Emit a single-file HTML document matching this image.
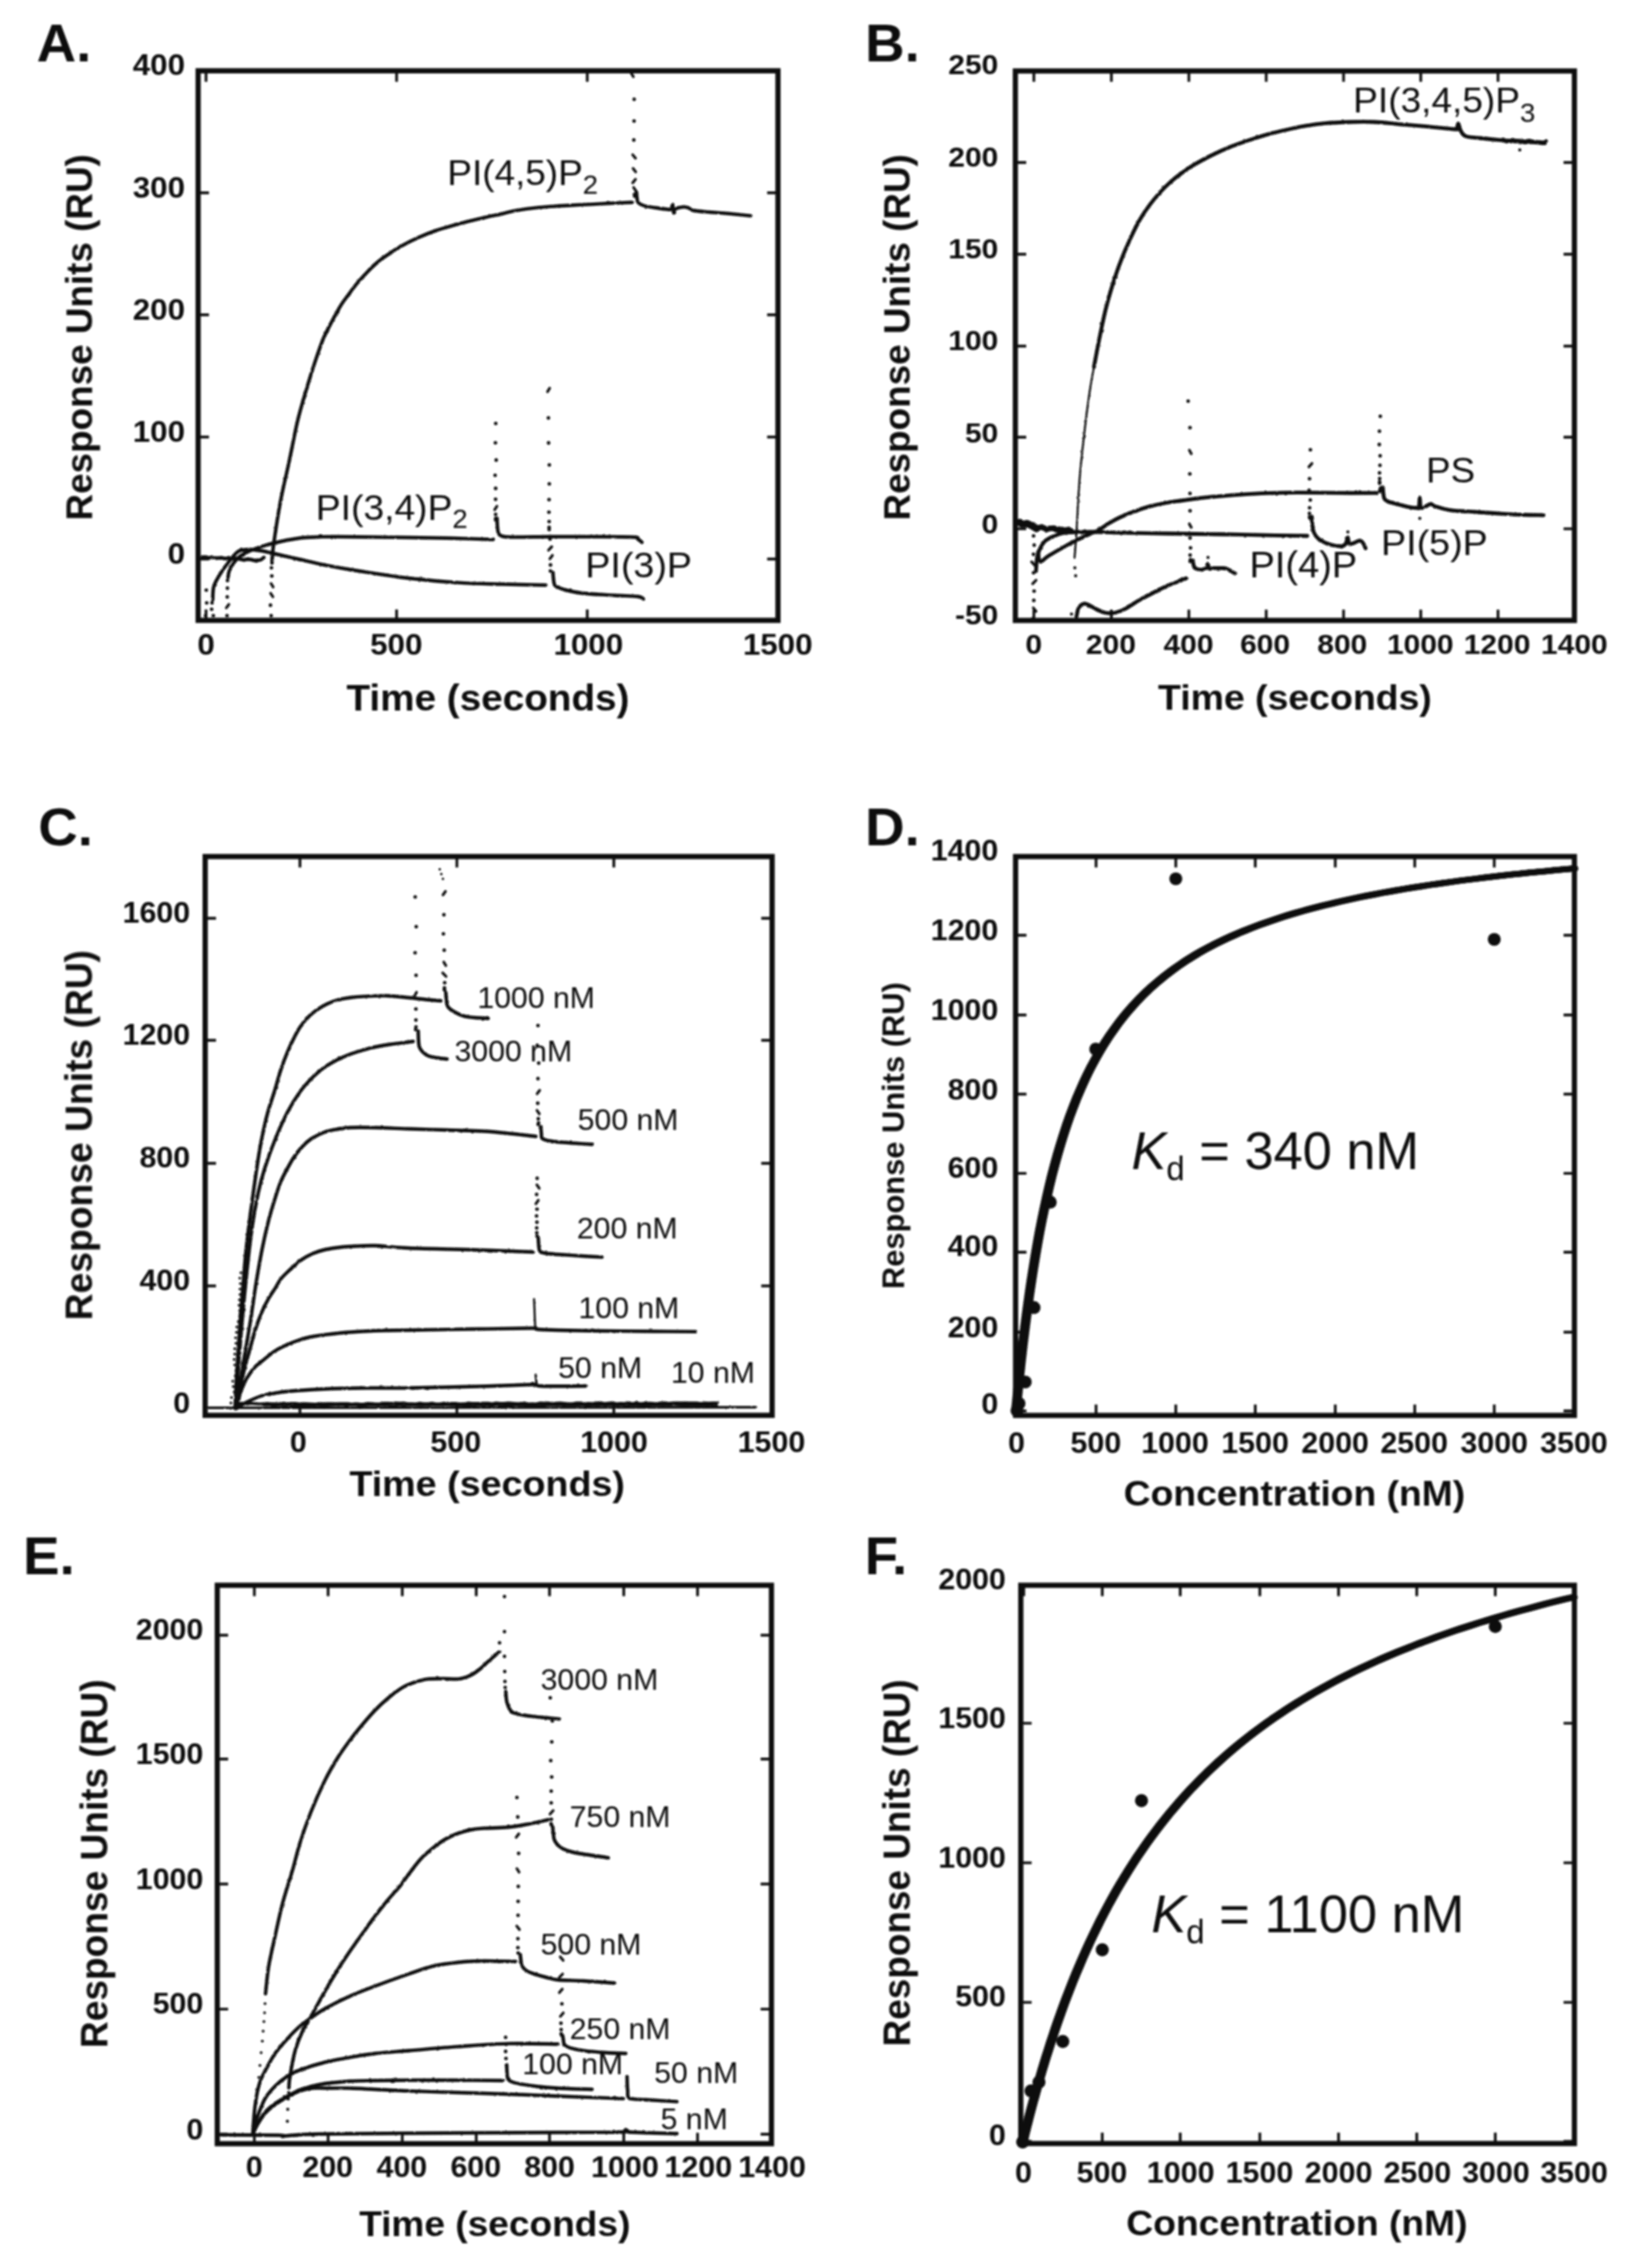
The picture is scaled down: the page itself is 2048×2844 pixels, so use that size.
<!DOCTYPE html>
<html lang="en"><head><meta charset="utf-8"><title>SPR binding figure</title>
<style>html,body{margin:0;padding:0;background:#fff}svg{display:block;font-family:"Liberation Sans",sans-serif}text{fill:#0b0b0b}</style></head><body>
<svg width="2048" height="2844" viewBox="0 0 2048 2844">
<rect width="2048" height="2844" fill="#fff"/>
<g id="fig" filter="url(#soft)">
<rect x="248.5" y="88.8" width="727.2" height="689.1" fill="none" stroke="#0b0b0b" stroke-width="6.5"/>
<path d="M258.4 88.8v13.6M258.4 777.9v-13.6M497.4 88.8v13.6M497.4 777.9v-13.6M736.5 88.8v13.6M736.5 777.9v-13.6M248.5 241.7h13.6M975.7 241.7h-13.6M248.5 394.8h13.6M975.7 394.8h-13.6M248.5 548h13.6M975.7 548h-13.6M248.5 701h13.6M975.7 701h-13.6" stroke="#0b0b0b" stroke-width="3.4" fill="none"/>
<text transform="translate(46 77) scale(1.03 1)" font-size="66.5" font-weight="bold" text-anchor="start" >A.</text>
<text transform="translate(232 93.5) scale(1.05 1)" font-size="37.4" font-weight="bold" text-anchor="end" >400</text>
<text transform="translate(232 247.5) scale(1.05 1)" font-size="37.4" font-weight="bold" text-anchor="end" >300</text>
<text transform="translate(232 400.5) scale(1.05 1)" font-size="37.4" font-weight="bold" text-anchor="end" >200</text>
<text transform="translate(232 554) scale(1.05 1)" font-size="37.4" font-weight="bold" text-anchor="end" >100</text>
<text transform="translate(232 706.5) scale(1.05 1)" font-size="37.4" font-weight="bold" text-anchor="end" >0</text>
<text transform="translate(258.4 820.5) scale(1.05 1)" font-size="37.4" font-weight="bold" text-anchor="middle" >0</text>
<text transform="translate(497 820.5) scale(1.05 1)" font-size="37.4" font-weight="bold" text-anchor="middle" >500</text>
<text transform="translate(737.8 820.5) scale(1.05 1)" font-size="37.4" font-weight="bold" text-anchor="middle" >1000</text>
<text transform="translate(975.3 820.5) scale(1.05 1)" font-size="37.4" font-weight="bold" text-anchor="middle" >1500</text>
<text transform="translate(612 890.5) scale(1.05 1)" font-size="46.2" font-weight="bold" text-anchor="middle" >Time (seconds)</text>
<text transform="translate(115.3 423) rotate(-90) scale(1 1.02)" font-size="46.2" font-weight="bold" text-anchor="middle">Response Units (RU)</text>
<g fill="none" stroke="#0b0b0b" stroke-linecap="round" stroke-linejoin="round" filter="url(#rough)">
<path d="M254 698.6L258 698.5L262 699.7L266 698.8L270 699.9L274 699.8L278 699.4L282 700.5L286 699.7L290 700.7L294 700.2L298 700.4L302 701.3L306 702.3L310 701.1L314 701.5L318 702.5L322 703.4" stroke-width="4.6" />
<path d="M322 702.5C322.8 702.4 325.5 702.6 327 702C328.5 701.4 330.3 699.5 331 699" stroke-width="4.4" />
<path d="M341 706C341.3 702.3 341.2 696.3 343 683.6C344.8 670.9 348.4 646.9 351.6 629.6C354.8 612.3 358.8 596.8 362.4 579.9C366 563 369.6 543.1 373.2 528C376.8 512.9 380.4 501.4 384 489.2C387.6 477 391.2 465.4 394.8 454.6C398.4 443.8 402 433 405.6 424.4C409.2 415.8 412.8 409.6 416.4 402.8C420 396 423.6 389.1 427.2 383.3C430.8 377.5 434.4 373.1 438 368.2C441.6 363.3 445.2 358.5 448.8 354.2C452.4 349.9 456 346.1 459.6 342.3C463.2 338.5 466.8 334.7 470.4 331.5C474 328.3 475.8 326.7 481.2 322.9C486.6 319.1 495.6 312.9 502.8 308.8C510 304.7 517.2 301.2 524.4 298C531.6 294.8 538.8 291.9 546 289.4C553.2 286.9 560.4 284.9 567.6 282.9C574.8 280.8 582 278.9 589.2 277.1C596.4 275.3 604 273.6 610.8 272.1C617.6 270.6 623.8 269.4 630 268C636.2 266.6 640.8 265.1 647.8 263.9C654.8 262.7 663.8 261.5 671.7 260.6C679.7 259.7 687.5 259.2 695.5 258.6C703.5 258 711.4 257.6 719.4 257.2C727.4 256.8 735.3 256.5 743.3 256.1C751.3 255.7 758.9 255.2 767.2 254.8C775.5 254.4 788.7 253.9 793 253.7" stroke-width="4.4" />
<path d="M798.2 241C798.3 242.3 798.6 246.8 799 249C799.4 251.2 799.1 252.8 800.6 254.3C802.1 255.8 804.2 257 807.8 258C811.4 259 816.8 259.7 822 260.5C827.2 261.3 835.5 262.4 838.8 262.7C842.1 262.9 841.2 263 842 262C842.8 261 843.1 255.7 843.6 256.5C844.1 257.3 844.4 266.1 845 267C845.6 267.9 844.8 263.2 847 262C849.2 260.8 855.2 259.7 858 259.5C860.8 259.3 862 260.2 864 261C866 261.8 865.7 263.2 870 264C874.3 264.8 883.2 265.4 890 266C896.8 266.6 901.9 266.7 910.5 267.5C919.1 268.3 936.3 270.1 941.5 270.6" stroke-width="4.4" />
<path d="M266.8 752C267 749.3 266.7 740.9 268 736C269.3 731.1 271.6 727.5 274.4 722.7C277.2 717.9 281.1 712.1 285 707C288.9 701.9 294.5 694.9 298 692C301.5 689.1 303.4 690 306 689.5C308.6 689 309.6 688.8 313.6 689C317.6 689.2 324.8 690.1 330 691C335.2 691.9 337.3 692.8 345 694.5C352.7 696.2 365.6 699.1 376 701.5C386.4 703.9 395.3 706.2 407.6 708.6C419.9 711 432.6 713.3 450 716C467.4 718.7 491.2 722.6 512 725C532.8 727.4 555 729.4 574.7 730.6C594.4 731.9 611.7 732 630 732.5C648.3 733 675.4 733.5 684.5 733.7" stroke-width="4.4" />
<path d="M693.5 718C693.7 719.8 693.9 726.2 694.5 729C695.1 731.8 694.4 733.2 697 735C699.6 736.8 704.2 738.5 710 740C715.8 741.5 721.5 742.9 731.5 744C741.5 745.1 758.6 745.8 770 746.5C781.4 747.2 793.9 747.2 800 748C806.1 748.8 805.7 750.5 806.8 751" stroke-width="4.4" />
<path d="M286 724C286.2 722.7 286.3 719 287.5 716C288.7 713 290.8 709.1 293 706C295.2 702.9 297.3 700.3 301 697.6C304.7 694.9 310.3 692.1 315 690C319.7 687.9 323.2 686.8 329 685C334.8 683.2 342.2 681.2 350 679.5C357.8 677.8 367.7 675.7 376 674.7C384.3 673.7 392.2 673.6 400 673.3C407.8 673 404.3 672.9 423 673C441.7 673.1 487.5 673.7 512 674C536.5 674.3 552.2 674.6 570 675C587.8 675.4 610.5 676.2 618.6 676.5" stroke-width="4.4" />
<path d="M623.3 650C623.5 652.7 623.7 662.4 624.5 666C625.3 669.6 625.4 670.2 628 671.5C630.6 672.8 629.7 673.2 640 673.5C650.3 673.8 673.3 673.1 690 673C706.7 672.9 722.7 672.9 740 673C757.3 673.1 784 673 794 673.5C804 674 798.2 674.9 800 676C801.8 677.1 804.2 679.3 805 680" stroke-width="4.4" />
</g>
<g fill="#0b0b0b" stroke="#0b0b0b" stroke-width="3.4" stroke-linecap="round">
<circle cx="795.9" cy="246" r="2.3" stroke="none"/>
<circle cx="795.7" cy="243.7" r="2.3" stroke="none"/>
<path d="M797.6 239.5L794.6 235.1"/>
<path d="M793.4 229.3L797 224.9"/>
<path d="M797.2 215.6L794 211.2"/>
<path d="M797 198.4L793.4 194"/>
<circle cx="794.9" cy="175.6" r="2.3" stroke="none"/>
<circle cx="795.2" cy="151.7" r="2.3" stroke="none"/>
<circle cx="795.3" cy="124.5" r="2.3" stroke="none"/>
<path d="M794.3 96.2L791.7 91.8"/>
</g>
<g fill="#0b0b0b" stroke="#0b0b0b" stroke-width="3.4" stroke-linecap="round">
<circle cx="621.6" cy="652" r="2.3" stroke="none"/>
<circle cx="621.7" cy="650.1" r="2.3" stroke="none"/>
<circle cx="621.6" cy="645.1" r="2.3" stroke="none"/>
<path d="M620.4 639.2L623.2 634.8"/>
<circle cx="621.5" cy="626.1" r="2.3" stroke="none"/>
<circle cx="621.6" cy="612.4" r="2.3" stroke="none"/>
<circle cx="620.9" cy="596" r="2.3" stroke="none"/>
<circle cx="622.3" cy="576.9" r="2.3" stroke="none"/>
<circle cx="621.3" cy="555.3" r="2.3" stroke="none"/>
<circle cx="621.7" cy="531" r="2.3" stroke="none"/>
</g>
<g fill="#0b0b0b" stroke="#0b0b0b" stroke-width="3.4" stroke-linecap="round">
<circle cx="688.7" cy="664" r="2.3" stroke="none"/>
<circle cx="688.7" cy="661.3" r="2.3" stroke="none"/>
<circle cx="688.7" cy="654" r="2.3" stroke="none"/>
<circle cx="688.4" cy="642.3" r="2.3" stroke="none"/>
<circle cx="688.6" cy="626.5" r="2.3" stroke="none"/>
<circle cx="688.9" cy="606.7" r="2.3" stroke="none"/>
<circle cx="688.9" cy="583" r="2.3" stroke="none"/>
<circle cx="688" cy="555.4" r="2.3" stroke="none"/>
<circle cx="687.8" cy="524.1" r="2.3" stroke="none"/>
<path d="M686.7 491.2L689.3 486.8"/>
</g>
<g fill="#0b0b0b" stroke="#0b0b0b" stroke-width="3.4" stroke-linecap="round">
<circle cx="690.3" cy="716" r="2.3" stroke="none"/>
<circle cx="690.4" cy="708.4" r="2.3" stroke="none"/>
<path d="M689.6 700.8L692.8 696.4"/>
<path d="M687.9 689.9L692 685.5"/>
<circle cx="689.8" cy="676" r="2.3" stroke="none"/>
</g>
<g fill="#0b0b0b" stroke="#0b0b0b" stroke-width="3.4" stroke-linecap="round">
<circle cx="340.4" cy="712" r="2.3" stroke="none"/>
<circle cx="340.9" cy="722.2" r="2.3" stroke="none"/>
<path d="M342.6 736.1L339.9 731.7"/>
<path d="M342.3 748.4L339.4 744"/>
<circle cx="339.2" cy="758.9" r="2.3" stroke="none"/>
<circle cx="340.1" cy="772" r="2.3" stroke="none"/>
</g>
<g fill="#0b0b0b" stroke="#0b0b0b" stroke-width="3.4" stroke-linecap="round">
<circle cx="285.3" cy="728" r="2.3" stroke="none"/>
<circle cx="285.2" cy="737.6" r="2.3" stroke="none"/>
<circle cx="285" cy="748.5" r="2.3" stroke="none"/>
<path d="M283.8 762.3L287 757.9"/>
<circle cx="284.7" cy="772" r="2.3" stroke="none"/>
</g>
<g fill="#0b0b0b" stroke="#0b0b0b" stroke-width="3.4" stroke-linecap="round">
<circle cx="265.9" cy="756" r="2.3" stroke="none"/>
<circle cx="265.4" cy="764" r="2.3" stroke="none"/>
<circle cx="267.5" cy="772" r="2.3" stroke="none"/>
</g>
<g fill="#0b0b0b" stroke="#0b0b0b" stroke-width="3.4" stroke-linecap="round">
<circle cx="258.7" cy="740" r="2.3" stroke="none"/>
<circle cx="259.2" cy="756" r="2.3" stroke="none"/>
<circle cx="257.8" cy="772" r="2.3" stroke="none"/>
</g>
<text transform="translate(561 232) scale(1.05 1)" font-size="44.1" font-weight="normal" text-anchor="start" >PI(4,5)P<tspan font-size="33" dy="11">2</tspan></text>
<text transform="translate(396 651.5) scale(1.05 1)" font-size="44.5" font-weight="normal" text-anchor="start" >PI(3,4)P<tspan font-size="33" dy="10.5">2</tspan></text>
<text transform="translate(734 724.3) scale(1.05 1)" font-size="45" font-weight="normal" text-anchor="start" >PI(3)P</text>
<rect x="1273.4" y="89" width="701.1" height="689" fill="none" stroke="#0b0b0b" stroke-width="6.5"/>
<path d="M1296.6 89v13.6M1296.6 778v-13.6M1393.8 89v13.6M1393.8 778v-13.6M1491 89v13.6M1491 778v-13.6M1588 89v13.6M1588 778v-13.6M1685 89v13.6M1685 778v-13.6M1781.8 89v13.6M1781.8 778v-13.6M1878.7 89v13.6M1878.7 778v-13.6M1273.4 203.8h13.6M1974.5 203.8h-13.6M1273.4 318.8h13.6M1974.5 318.8h-13.6M1273.4 434h13.6M1974.5 434h-13.6M1273.4 548.3h13.6M1974.5 548.3h-13.6M1273.4 663.1h13.6M1974.5 663.1h-13.6" stroke="#0b0b0b" stroke-width="3.4" fill="none"/>
<text transform="translate(1085 77) scale(1.03 1)" font-size="66.5" font-weight="bold" text-anchor="start" >B.</text>
<text transform="translate(1252 93) scale(1.05 1)" font-size="35.8" font-weight="bold" text-anchor="end" >250</text>
<text transform="translate(1252 208.5) scale(1.05 1)" font-size="35.8" font-weight="bold" text-anchor="end" >200</text>
<text transform="translate(1252 323.5) scale(1.05 1)" font-size="35.8" font-weight="bold" text-anchor="end" >150</text>
<text transform="translate(1252 439) scale(1.05 1)" font-size="35.8" font-weight="bold" text-anchor="end" >100</text>
<text transform="translate(1252 554.5) scale(1.05 1)" font-size="35.8" font-weight="bold" text-anchor="end" >50</text>
<text transform="translate(1252 668.5) scale(1.05 1)" font-size="35.8" font-weight="bold" text-anchor="end" >0</text>
<text transform="translate(1252 783) scale(1.05 1)" font-size="35.8" font-weight="bold" text-anchor="end" >-50</text>
<text transform="translate(1296.5 819.5) scale(1.05 1)" font-size="35.8" font-weight="bold" text-anchor="middle" >0</text>
<text transform="translate(1393.2 819.5) scale(1.05 1)" font-size="35.8" font-weight="bold" text-anchor="middle" >200</text>
<text transform="translate(1490.5 819.5) scale(1.05 1)" font-size="35.8" font-weight="bold" text-anchor="middle" >400</text>
<text transform="translate(1586.5 819.5) scale(1.05 1)" font-size="35.8" font-weight="bold" text-anchor="middle" >600</text>
<text transform="translate(1683.4 819.5) scale(1.05 1)" font-size="35.8" font-weight="bold" text-anchor="middle" >800</text>
<text transform="translate(1781.2 819.5) scale(1.05 1)" font-size="35.8" font-weight="bold" text-anchor="middle" >1000</text>
<text transform="translate(1877.5 819.5) scale(1.05 1)" font-size="35.8" font-weight="bold" text-anchor="middle" >1200</text>
<text transform="translate(1974.4 819.5) scale(1.05 1)" font-size="35.8" font-weight="bold" text-anchor="middle" >1400</text>
<text transform="translate(1624 889.5) scale(1.05 1)" font-size="44.7" font-weight="bold" text-anchor="middle" >Time (seconds)</text>
<text transform="translate(1140.8 423) rotate(-90) scale(1 1.02)" font-size="46.2" font-weight="bold" text-anchor="middle">Response Units (RU)</text>
<g fill="none" stroke="#0b0b0b" stroke-linecap="round" stroke-linejoin="round" filter="url(#rough)">
<path d="M1279 655.1L1282 657.3L1285 657.2L1288 656.5L1291 657.8L1294 659.3L1297 661L1300 662.9" stroke-width="9" />
<path d="M1300 661.8L1303.1 661.7L1306.3 660.8L1309.4 662.2L1312.6 663.9L1315.7 662.7L1318.9 662.4L1322 662.2L1325.1 664.2L1328.3 664.5L1331.4 663.9L1334.6 664.8L1337.7 664.5L1340.9 663.9L1344 666.4" stroke-width="7" />
<path d="M1347.7 699C1348.1 693.2 1349.2 680.7 1350.2 664.3C1351.2 647.9 1352.5 619.6 1354 600.4C1355.5 581.2 1357.3 566.3 1359.2 549.2C1361.1 532.1 1363.5 512.9 1365.6 498C1367.7 483.1 1370.9 466.1 1372 459.7" stroke-width="2.6" stroke-dasharray="2.4 1.4"/>
<path d="M1372 459.7C1373.1 454.1 1376.1 437.9 1378.4 426.4C1380.7 414.9 1383.5 401.2 1386 390.6C1388.5 380 1390.7 372.3 1393.7 362.5C1396.7 352.7 1400.1 342 1403.9 331.8C1407.7 321.6 1412.4 310.5 1416.7 301.1C1421 291.7 1425.2 282.9 1429.5 275.5C1433.8 268.1 1438 262.1 1442.3 256.4C1446.6 250.6 1450.8 245.7 1455.1 241C1459.4 236.3 1463.6 232 1467.9 228.2C1472.2 224.4 1476.4 221.2 1480.7 218C1485 214.8 1487.1 212.8 1493.5 209C1499.9 205.2 1510.5 199.2 1519 195C1527.5 190.8 1536.1 186.9 1544.6 183.5C1553.1 180.1 1561.7 177.3 1570.2 174.5C1578.7 171.7 1587.3 169.2 1595.8 166.9C1604.3 164.7 1613.9 162.6 1621.3 161C1628.7 159.4 1633.3 158.5 1640 157.4C1646.7 156.3 1652.6 155.3 1661.4 154.6C1670.2 153.9 1682.4 153.3 1692.8 153C1703.2 152.7 1713.5 152.5 1724 153C1734.5 153.5 1745 154.9 1755.5 155.8C1766 156.7 1775.4 157.4 1786.9 158.4C1798.4 159.4 1817.8 161.6 1824.5 162C1831.2 162.4 1826.2 162.2 1827 161C1827.8 159.8 1828.2 154.5 1829 155C1829.8 155.5 1830.4 161.3 1832 164C1833.6 166.7 1833.9 169.4 1838.6 171C1843.3 172.6 1852.9 172.7 1860 173.5C1867.1 174.3 1872.7 174.9 1881 175.6C1889.3 176.3 1901.2 177 1910 177.5C1918.8 178 1929.2 178.8 1934 178.7C1938.8 178.6 1938.2 177.3 1939 177" stroke-width="4.8" />
<path d="M1885 175.4L1888.1 176.5L1891.1 177.2L1894.2 177L1897.2 175.9L1900.3 177L1903.4 175.7L1906.4 177.9L1909.5 177.2L1912.5 178.3L1915.6 177.1L1918.6 176.9L1921.7 177.9L1924.8 177.9L1927.8 178.5L1930.9 178.6L1933.9 179.2L1937 179.3" stroke-width="5.6" />
<path d="M1299.3 716C1299.5 713.3 1299.9 704.2 1300.5 700C1301.1 695.8 1301.9 693.8 1303 691C1304.1 688.2 1305.4 685.3 1307 683C1308.6 680.7 1309.5 679 1312.5 677C1315.5 675 1320.8 672.5 1325 671C1329.2 669.5 1330.3 668.5 1337.6 667.8C1344.9 667.1 1358.6 667 1369 667C1379.4 667 1384.3 667.5 1400 667.8C1415.7 668.1 1440.3 668.6 1463 669C1485.7 669.4 1513.2 669.6 1536 670C1558.8 670.4 1582.8 671 1600 671.3C1617.2 671.6 1632.9 671.9 1639.5 672" stroke-width="4.8" />
<path d="M1645.2 648C1645.3 650 1645.6 656.8 1646 660C1646.4 663.2 1646.7 664.8 1647.5 667C1648.3 669.2 1649.5 671.2 1651 673C1652.5 674.8 1654.2 676.2 1656.4 677.6C1658.6 679 1661.2 680.4 1664 681.5C1666.8 682.6 1669.9 683.4 1672.9 684C1675.9 684.6 1679.5 685.3 1682 685C1684.5 684.7 1686.2 683.8 1687.6 682C1689 680.2 1689.7 674 1690.4 674C1691.1 674 1690.9 680.8 1692 682C1693.1 683.2 1695.1 681.8 1696.8 681.3C1698.5 680.8 1700.5 679.5 1702 679C1703.5 678.5 1704.8 677.7 1706 678C1707.2 678.3 1708.4 679.4 1709.5 681C1710.6 682.6 1712.1 686.4 1712.6 687.5" stroke-width="4.8" />
<path d="M1302 692C1302.4 694 1302.4 703.2 1304.6 704C1306.8 704.8 1309.5 700.3 1315 697C1320.5 693.7 1331.3 687.5 1337.6 684C1343.9 680.5 1348.3 678.3 1353 676C1357.7 673.7 1361.8 672 1366 670C1370.2 668 1374.2 666.6 1378.4 664.3C1382.6 662 1386.7 658.5 1391 656C1395.3 653.5 1398.8 651.4 1404 649C1409.2 646.6 1415.6 643.9 1422 641.5C1428.4 639.1 1435.5 636.7 1442.3 634.9C1449.1 633.1 1456.7 631.6 1463 630.5C1469.3 629.4 1474.2 628.8 1480 628C1485.8 627.2 1491.9 626.3 1498 625.5C1504.1 624.7 1507.5 624.3 1516.7 623.4C1526 622.5 1541.2 621.1 1553.5 620.3C1565.8 619.5 1578 618.8 1590.2 618.4C1602.5 618 1611.7 617.7 1627 617.7C1642.3 617.7 1665.4 618.1 1682 618.2C1698.6 618.3 1719.1 618.2 1726.5 618.2" stroke-width="4.8" />
<path d="M1730.5 616C1730.7 615.3 1731.4 612.7 1731.6 612" stroke-width="4.8" />
<path d="M1734.3 611C1734.4 612.5 1734.6 617.5 1735 620C1735.4 622.5 1735.5 624.5 1736.5 626C1737.5 627.5 1739.3 628.2 1741 629C1742.7 629.8 1744 630 1746.4 630.7C1748.8 631.4 1752.4 632.2 1755.5 633C1758.6 633.8 1761.1 634.6 1764.8 635.3C1768.5 636 1775.1 636.9 1777.6 637C1780.1 637.1 1779.1 638.2 1779.6 636C1780.1 633.8 1780.2 623.9 1780.6 624C1781 624.1 1780.8 634.7 1782 636.5C1783.2 638.3 1785.9 635.8 1788 635C1790.1 634.2 1792.7 632 1794.7 632C1796.7 632 1796.1 633.7 1800 635C1803.9 636.3 1809.7 638.4 1818 639.6C1826.3 640.8 1839.5 641.3 1850 642C1860.5 642.7 1871 643.4 1881 644C1891 644.6 1900.9 645.2 1910 645.5C1919.1 645.8 1931.5 645.9 1935.8 646" stroke-width="4.8" />
<path d="M1350 773C1350.5 771.2 1351.4 764.7 1353 762C1354.6 759.3 1357.3 757.5 1359.5 757C1361.7 756.5 1363.4 757.8 1366 759C1368.6 760.2 1371.9 762.5 1375 764C1378.1 765.5 1381.8 767.2 1384.6 768C1387.4 768.8 1389.4 769 1392 769C1394.6 769 1397 768.8 1400 768C1403 767.2 1404.7 766.8 1410 764C1415.3 761.2 1425.4 754.5 1431.6 751C1437.8 747.5 1441.8 745.7 1447 743C1452.2 740.3 1457.8 737.3 1463 735C1468.2 732.7 1473.8 730.7 1478 729C1482.2 727.3 1486.3 725.7 1488 725" stroke-width="4.8" />
<path d="M1496 703C1496.2 704 1496.6 707.4 1497 709C1497.4 710.6 1497.6 711.7 1498.6 712.5C1499.6 713.3 1501.5 713.7 1503 714C1504.5 714.3 1506.3 714.5 1507.6 714.3C1508.9 714.1 1510.1 713.4 1511 713C1511.9 712.6 1512.3 713 1513 712C1513.7 711 1514.4 706.8 1515 707C1515.6 707.2 1515.3 712.1 1516.5 713C1517.7 713.9 1519.2 712.6 1522.3 712.5C1525.4 712.4 1531.7 712.1 1535 712.5C1538.3 712.9 1539.8 713.9 1542 715C1544.2 716.1 1547.4 718.3 1548.5 719" stroke-width="4.8" />
</g>
<g fill="#0b0b0b" stroke="#0b0b0b" stroke-width="3.4" stroke-linecap="round">
<circle cx="1730.2" cy="606" r="2.3" stroke="none"/>
<circle cx="1730.2" cy="604.4" r="2.3" stroke="none"/>
<circle cx="1730.3" cy="600" r="2.3" stroke="none"/>
<circle cx="1730.1" cy="593" r="2.3" stroke="none"/>
<circle cx="1730.7" cy="583.5" r="2.3" stroke="none"/>
<circle cx="1730.9" cy="571.6" r="2.3" stroke="none"/>
<circle cx="1729.8" cy="557.4" r="2.3" stroke="none"/>
<circle cx="1730" cy="540.8" r="2.3" stroke="none"/>
<circle cx="1731.1" cy="522" r="2.3" stroke="none"/>
</g>
<g fill="#0b0b0b" stroke="#0b0b0b" stroke-width="3.4" stroke-linecap="round">
<circle cx="1642.9" cy="650" r="2.3" stroke="none"/>
<circle cx="1642.3" cy="648.3" r="2.3" stroke="none"/>
<circle cx="1642.2" cy="643.8" r="2.3" stroke="none"/>
<circle cx="1642.4" cy="636.7" r="2.3" stroke="none"/>
<circle cx="1643.3" cy="627" r="2.3" stroke="none"/>
<circle cx="1641.8" cy="614.8" r="2.3" stroke="none"/>
<circle cx="1642.3" cy="600.2" r="2.3" stroke="none"/>
<path d="M1641.5 585.5L1645.4 581.1"/>
<circle cx="1643.4" cy="564" r="2.3" stroke="none"/>
</g>
<g fill="#0b0b0b" stroke="#0b0b0b" stroke-width="3.4" stroke-linecap="round">
<circle cx="1492.6" cy="704" r="2.3" stroke="none"/>
<circle cx="1493" cy="701.9" r="2.3" stroke="none"/>
<circle cx="1492.6" cy="696.1" r="2.3" stroke="none"/>
<circle cx="1493.1" cy="687" r="2.3" stroke="none"/>
<circle cx="1492.5" cy="674.6" r="2.3" stroke="none"/>
<path d="M1494 661.3L1491.5 656.9"/>
<circle cx="1492.5" cy="640.5" r="2.3" stroke="none"/>
<circle cx="1492.4" cy="618.8" r="2.3" stroke="none"/>
<circle cx="1492.2" cy="594.2" r="2.3" stroke="none"/>
<path d="M1494 568.9L1491.6 564.5"/>
<circle cx="1492.4" cy="536.3" r="2.3" stroke="none"/>
<circle cx="1490.1" cy="503" r="2.3" stroke="none"/>
</g>
<g fill="#0b0b0b" stroke="#0b0b0b" stroke-width="3.4" stroke-linecap="round">
<circle cx="1296.2" cy="672" r="2.3" stroke="none"/>
<circle cx="1297" cy="683.6" r="2.3" stroke="none"/>
<circle cx="1296.1" cy="695.1" r="2.3" stroke="none"/>
<path d="M1297.7 708.9L1293.8 704.5"/>
<circle cx="1296.2" cy="718.2" r="2.3" stroke="none"/>
<path d="M1295.1 732L1299.3 727.6"/>
<circle cx="1296.9" cy="741.3" r="2.3" stroke="none"/>
<circle cx="1296.5" cy="752.9" r="2.3" stroke="none"/>
<path d="M1299.3 766.6L1295.9 762.2"/>
<circle cx="1295" cy="776" r="2.3" stroke="none"/>
</g>
<g fill="#0b0b0b">
<circle cx="1515" cy="699" r="2"/>
<circle cx="1690.4" cy="667" r="2"/>
<circle cx="1780.6" cy="650" r="2"/>
<circle cx="1906" cy="188" r="2"/>
<circle cx="1343.8" cy="770" r="2"/>
<circle cx="1348" cy="712" r="2"/>
<circle cx="1349" cy="722" r="2"/>
</g>
<text transform="translate(1697 141) scale(1.05 1)" font-size="44.3" font-weight="normal" text-anchor="start" >PI(3,4,5)P<tspan font-size="33" dy="12">3</tspan></text>
<text transform="translate(1788.5 605) scale(1.05 1)" font-size="43.8" font-weight="normal" text-anchor="start" >PS</text>
<text transform="translate(1732 696) scale(1.05 1)" font-size="45" font-weight="normal" text-anchor="start" >PI(5)P</text>
<text transform="translate(1567 724.3) scale(1.05 1)" font-size="45.4" font-weight="normal" text-anchor="start" >PI(4)P</text>
<rect x="257.3" y="1074.1" width="711" height="700.7" fill="none" stroke="#0b0b0b" stroke-width="6.5"/>
<path d="M376.2 1074.1v13.6M376.2 1774.8v-13.6M573 1074.1v13.6M573 1774.8v-13.6M769.8 1074.1v13.6M769.8 1774.8v-13.6M257.3 1151.5h13.6M968.3 1151.5h-13.6M257.3 1304.5h13.6M968.3 1304.5h-13.6M257.3 1458.7h13.6M968.3 1458.7h-13.6M257.3 1612.5h13.6M968.3 1612.5h-13.6" stroke="#0b0b0b" stroke-width="3.4" fill="none"/>
<text transform="translate(48 1059.8) scale(1.03 1)" font-size="66.5" font-weight="bold" text-anchor="start" >C.</text>
<text transform="translate(238.5 1157) scale(1.05 1)" font-size="36.3" font-weight="bold" text-anchor="end" >1600</text>
<text transform="translate(238.5 1310) scale(1.05 1)" font-size="36.3" font-weight="bold" text-anchor="end" >1200</text>
<text transform="translate(238.5 1464) scale(1.05 1)" font-size="36.3" font-weight="bold" text-anchor="end" >800</text>
<text transform="translate(238.5 1618) scale(1.05 1)" font-size="36.3" font-weight="bold" text-anchor="end" >400</text>
<text transform="translate(238.5 1771.5) scale(1.05 1)" font-size="36.3" font-weight="bold" text-anchor="end" >0</text>
<text transform="translate(374 1820.5) scale(1.05 1)" font-size="36.3" font-weight="bold" text-anchor="middle" >0</text>
<text transform="translate(571.6 1820.5) scale(1.05 1)" font-size="36.3" font-weight="bold" text-anchor="middle" >500</text>
<text transform="translate(770 1820.5) scale(1.05 1)" font-size="36.3" font-weight="bold" text-anchor="middle" >1000</text>
<text transform="translate(967.5 1820.5) scale(1.05 1)" font-size="36.3" font-weight="bold" text-anchor="middle" >1500</text>
<text transform="translate(611 1876) scale(1.05 1)" font-size="45" font-weight="bold" text-anchor="middle" >Time (seconds)</text>
<text transform="translate(115.3 1423.4) rotate(-90) scale(1 1.02)" font-size="46.7" font-weight="bold" text-anchor="middle">Response Units (RU)</text>
<g fill="none" stroke="#0b0b0b" stroke-linecap="round" stroke-linejoin="round" filter="url(#rough)">
<path d="M261 1765.3L948 1764.6" stroke-width="3.2" />
<path d="M300 1759.8L305 1759.5L310.1 1760.6L315.1 1759.7L320.1 1760.1L325.2 1760.5L330.2 1760.2L335.2 1759.9L340.3 1760.2L345.3 1760.2L350.3 1760.5L355.4 1759.6L360.4 1760.2L365.4 1759.8L370.5 1759.8L375.5 1760.5L380.5 1760.1L385.6 1760.2L390.6 1760.5L395.6 1760.7L400.7 1760L405.7 1760.3L410.7 1760.1L415.8 1760.1L420.8 1760.3L425.8 1760L430.9 1760.1L435.9 1760L440.9 1760.7L446 1760.3L451 1760.6L456 1760.7L461.1 1759.7L466.1 1760.1L471.1 1760.6L476.2 1760.5L481.2 1759.5L486.2 1759.5L491.3 1759.9L496.3 1759.4L501.3 1759.6L506.4 1759.4L511.4 1760.2L516.4 1760.4L521.5 1760.5L526.5 1759.5L531.5 1760.3L536.6 1760.2L541.6 1759.5L546.6 1760.5L551.7 1760.6L556.7 1759.6L561.7 1760.6L566.8 1759.8L571.8 1759.9L576.8 1760.6L581.9 1760.4L586.9 1759.4L591.9 1759.8L597 1759.9L602 1759.7L607.1 1759.5L612.1 1759.6L617.1 1760.2L622.2 1759.2L627.2 1759.9L632.2 1759.8L637.3 1759.2L642.3 1759.6L647.3 1760L652.4 1759.9L657.4 1759.2L662.4 1760.5L667.5 1760.2L672.5 1760.5L677.5 1759.3L682.6 1759.5L687.6 1759.2L692.6 1760.2L697.7 1759.5L702.7 1759.3L707.7 1759.7L712.8 1760.4L717.8 1760.2L722.8 1759.4L727.9 1759.3L732.9 1760.4L737.9 1759.9L743 1760L748 1759.2L753 1759.1L758.1 1760L763.1 1759.6L768.1 1759.1L773.2 1760.3L778.2 1759.9L783.2 1760.1L788.3 1759.1L793.3 1760.2L798.3 1759.1L803.4 1760.2L808.4 1759.6L813.4 1759.5L818.5 1759.8L823.5 1760.3L828.5 1759.3L833.6 1759.1L838.6 1759.7L843.6 1759.3L848.7 1759.1L853.7 1759.2L858.7 1759L863.8 1759.2L868.8 1759.4L873.8 1759.4L878.9 1760L883.9 1759.3L888.9 1759.6L894 1759.2L899 1759.4" stroke-width="3.6" />
<path d="M330 1761.6L334 1762L338 1761.6L342 1762.8L346 1762.5L350 1761.9L354 1762.3L358 1763.1L362.1 1761.7L366.1 1762.9L370.1 1762.3L374.1 1762.4L378.1 1762.9L382.1 1762.2L386.1 1762.4L390.1 1762.6L394.1 1763.1L398.1 1762.1L402.1 1762.9L406.1 1762.7L410.1 1762.5L414.1 1762.2L418.2 1762.1L422.2 1761.6L426.2 1761.7L430.2 1761.6L434.2 1762.7L438.2 1761.9L442.2 1761.8L446.2 1761.6L450.2 1762.8L454.2 1762.9L458.2 1762.6L462.2 1761.9L466.2 1761.9L470.2 1761.9L474.3 1762.2L478.3 1761.7L482.3 1762.2L486.3 1761.9L490.3 1763L494.3 1763L498.3 1762.3L502.3 1761.8L506.3 1763L510.3 1761.9L514.3 1762L518.3 1761.4L522.3 1762L526.3 1762.2L530.4 1762.2L534.4 1761.7L538.4 1762.2L542.4 1761.4L546.4 1761.8L550.4 1761.5L554.4 1762L558.4 1761.5L562.4 1761.4L566.4 1761.9L570.4 1761.8L574.4 1762.3L578.4 1762.2L582.4 1762.6L586.5 1762.4L590.5 1762.5L594.5 1762.8L598.5 1762L602.5 1761.9L606.5 1762.9L610.5 1761.6L614.5 1762.5L618.5 1762.4L622.5 1761.4L626.5 1762.7L630.5 1762.8L634.5 1762.3L638.5 1762.5L642.5 1762.6L646.6 1761.5L650.6 1762.2L654.6 1762.1L658.6 1762.6L662.6 1762.6L666.6 1762.6L670.6 1762.2L674.6 1762.7L678.6 1762.4L682.6 1762.4L686.6 1761.7L690.6 1761.3L694.6 1761.5L698.6 1761.9L702.7 1761.4L706.7 1762.6L710.7 1762.2L714.7 1762.3L718.7 1762.3L722.7 1762.3L726.7 1762L730.7 1761.3L734.7 1762.5L738.7 1762.4L742.7 1762L746.7 1762.1L750.7 1762.3L754.7 1761.3L758.8 1762.4L762.8 1761.6L766.8 1761.3L770.8 1761.6L774.8 1762.4L778.8 1761.5L782.8 1762.4L786.8 1762.8L790.8 1762L794.8 1761.8L798.8 1762L802.8 1762.3L806.8 1762.4L810.8 1762.2L814.9 1762.2L818.9 1761.3L822.9 1761.4L826.9 1761.6L830.9 1762.3L834.9 1761.6L838.9 1762.1L842.9 1761.2L846.9 1761.2L850.9 1761.6L854.9 1762.2L858.9 1762.2L862.9 1762.2L866.9 1761.6L871 1762L875 1761.9L879 1761.9L883 1761.3L887 1762.5L891 1761.4L895 1762.7L899 1762.6" stroke-width="3" />
<path d="M294.8 1766C295.2 1758.3 296 1737.8 297 1720C298 1702.2 299.7 1677.8 301 1659.5C302.3 1641.2 303.7 1625.8 305 1610C306.3 1594.2 306.9 1582.9 308.9 1565C310.8 1547.1 313.8 1523.5 316.7 1502.7C319.6 1481.9 322.9 1457.5 326 1440C329.1 1422.5 331.8 1410.3 335 1398C338.2 1385.7 342.2 1375.3 345 1366C347.8 1356.7 349.4 1349.8 352 1342C354.6 1334.2 357.9 1325.5 360.6 1319C363.3 1312.5 365.4 1308.2 368 1303C370.6 1297.8 373.1 1292.7 376.3 1288C379.5 1283.3 383.4 1278.7 387 1275C390.6 1271.3 394.2 1268.7 398 1266C401.8 1263.3 405.8 1261 410 1259C414.2 1257 418.2 1255.3 423 1254C427.8 1252.7 433.7 1251.7 439 1251C444.3 1250.3 446.9 1250 454.7 1249.6C462.5 1249.2 476.4 1248.5 486 1248.7C495.6 1248.9 503.8 1250.2 512 1251C520.2 1251.8 528.2 1252.8 535 1253.5C541.8 1254.2 549.8 1254.8 552.8 1255" stroke-width="4.4" />
<path d="M559 1243C559.2 1245.2 559.5 1252.7 560 1256C560.5 1259.3 560.3 1260.6 562 1262.8C563.7 1265 566.8 1267.2 570 1269C573.2 1270.8 576.8 1272.6 581 1273.8C585.2 1275 589.8 1275.5 595 1276C600.2 1276.5 609.4 1276.8 612.3 1277" stroke-width="4.4" />
<path d="M295.5 1766C296.2 1755 297.9 1726 300 1700C302.1 1674 305.3 1636.7 308 1610C310.7 1583.3 313.3 1559.2 316 1540C318.7 1520.8 321.3 1507.5 324 1495C326.7 1482.5 328.5 1476 332 1465C335.5 1454 340.2 1440.8 345 1429C349.8 1417.2 355.4 1404.5 360.6 1394.5C365.8 1384.5 371.1 1376.2 376.3 1369C381.5 1361.8 386.8 1356.2 392 1351C397.2 1345.8 402.4 1341.7 407.6 1338C412.8 1334.3 417.8 1331.7 423 1329C428.2 1326.3 433.7 1324 439 1322C444.3 1320 449.5 1318.5 454.7 1317C459.9 1315.5 464.1 1314.2 470 1313C475.9 1311.8 483 1310.5 490 1309.5C497 1308.5 507.3 1307.3 512 1306.7C516.7 1306.1 517 1306.1 518 1306" stroke-width="4.4" />
<path d="M524.5 1293C524.6 1295.2 524.8 1302.7 525 1306C525.2 1309.3 525.2 1310.8 526 1313C526.8 1315.2 528.2 1317.2 530 1319C531.8 1320.8 534 1322.8 537 1324C540 1325.2 544.1 1325.8 548 1326.5C551.9 1327.2 558.5 1327.8 560.6 1328" stroke-width="4.4" />
<path d="M296 1766C296.3 1763.9 296.5 1762.9 298 1753.6C299.5 1744.3 302.4 1725.7 305 1710C307.6 1694.3 310.9 1676.2 313.6 1659.5C316.3 1642.8 318.4 1625.8 321 1610C323.6 1594.2 326.3 1578.3 329 1565C331.7 1551.7 334.3 1540.4 337 1530C339.7 1519.6 342.5 1510.7 345 1502.7C347.5 1494.7 349.4 1488.3 352 1482C354.6 1475.7 357.9 1470 360.6 1465C363.3 1460 365.4 1456 368 1452C370.6 1448 373.6 1444.2 376.3 1441C379 1437.8 381.4 1435.3 384 1433C386.6 1430.7 388.1 1429.2 392 1427C395.9 1424.8 402.4 1421.3 407.6 1419.5C412.8 1417.7 417.8 1416.9 423 1416C428.2 1415.1 431.2 1414.3 439 1414C446.8 1413.7 457.8 1413.8 470 1414C482.2 1414.2 497 1415 512 1415.5C527 1416 544.3 1416.5 560 1417C575.7 1417.5 592.7 1417.8 606 1418.5C619.3 1419.2 629 1420.4 640 1421.5C651 1422.6 666.7 1424.4 672 1425" stroke-width="4.4" />
<path d="M678.2 1412C678.3 1413.7 678.7 1419.4 679 1422C679.3 1424.6 678.3 1426 679.8 1427.4C681.3 1428.8 684.6 1429.7 688 1430.5C691.4 1431.3 694.7 1431.5 700 1432C705.3 1432.5 712.9 1433 720 1433.5C727.1 1434 738.8 1434.8 742.5 1435" stroke-width="4.4" />
<path d="M296.5 1766C297.2 1761.8 299.2 1749.5 301 1741C302.8 1732.5 304.9 1723.3 307 1715C309.1 1706.7 311.3 1699.2 313.6 1690.9C315.9 1682.6 318.4 1672.8 321 1665C323.6 1657.2 326.3 1650 329 1643.8C331.7 1637.6 334.3 1632.7 337 1628C339.7 1623.3 342.5 1619.6 345 1615.6C347.5 1611.6 349.4 1607.4 352 1604C354.6 1600.6 356.6 1598.8 360.6 1595C364.7 1591.2 371.1 1584.8 376.3 1581C381.5 1577.2 386.8 1574.3 392 1572C397.2 1569.7 402.4 1568.2 407.6 1567C412.8 1565.8 417.8 1565.2 423 1564.5C428.2 1563.8 431.2 1563.4 439 1563C446.8 1562.6 457.8 1561.7 470 1562C482.2 1562.3 490.3 1564.1 512 1565C533.7 1565.9 573.9 1566.7 600 1567.5C626.1 1568.3 657.3 1569.6 668.8 1570" stroke-width="4.4" />
<path d="M675 1552C675.2 1554.2 675.5 1562 676 1565C676.5 1568 676 1568.8 678 1570C680 1571.2 684.3 1571.5 688 1572C691.7 1572.5 693 1572.5 700 1573C707 1573.5 720.8 1574.4 730 1575C739.2 1575.6 750.8 1576.2 755 1576.4" stroke-width="4.4" />
<path d="M297 1766C297.7 1763 299.3 1753.5 301 1748C302.7 1742.5 304.9 1737.3 307 1733C309.1 1728.7 311.3 1725.3 313.6 1722C315.9 1718.7 318.4 1715.6 321 1713C323.6 1710.4 325 1709.7 329 1706.5C333 1703.3 339.7 1697.4 345 1694C350.3 1690.6 355.4 1688.3 360.6 1686C365.8 1683.7 371.1 1681.7 376.3 1680C381.5 1678.3 386.8 1677.1 392 1676C397.2 1674.9 399.8 1674.5 407.6 1673.6C415.4 1672.7 428.6 1671.3 439 1670.5C449.4 1669.7 457.8 1669.2 470 1668.8C482.2 1668.4 490.3 1668.4 512 1668C533.7 1667.6 574.4 1666.9 600 1666.5C625.6 1666.1 653.9 1665.7 665.7 1665.5C677.5 1665.3 669.5 1665.2 671 1665.5C672.5 1665.8 670.2 1666.6 675 1667C679.8 1667.4 685.8 1667.7 700 1668C714.2 1668.3 740 1668.8 760 1669C780 1669.2 801.2 1669.3 820 1669.5C838.8 1669.7 863.8 1669.8 872.6 1669.9" stroke-width="4.4" />
<path d="M671.2 1664L670.2 1640L669.8 1629" stroke-width="2.6" />
<path d="M296 1766C298.3 1764.7 304.5 1760.7 310 1758C315.5 1755.3 323.2 1751.8 329 1750C334.8 1748.2 339.7 1747.9 345 1747C350.3 1746.1 350.2 1745.7 360.6 1744.8C371 1743.9 391 1742.4 407.6 1741.7C424.2 1741 442.6 1740.7 460 1740.5C477.4 1740.3 488.7 1740.8 512 1740.5C535.3 1740.2 574.4 1739.2 600 1738.5C625.6 1737.8 653.7 1736.6 665.7 1736.3C677.7 1736 670 1736.5 672 1736.8C674 1737.1 673.3 1737.8 678 1738C682.7 1738.2 690.6 1738.3 700 1738.3C709.4 1738.3 728.8 1738 734.6 1738" stroke-width="4.4" />
<path d="M673 1736L672.2 1728L671.8 1724" stroke-width="2.8" />
</g>
<g fill="#0b0b0b" stroke="#0b0b0b" stroke-width="3.4" stroke-linecap="round">
<circle cx="557.2" cy="1241" r="2.3" stroke="none"/>
<circle cx="557.4" cy="1238.7" r="2.3" stroke="none"/>
<circle cx="557.7" cy="1232.3" r="2.3" stroke="none"/>
<path d="M559.4 1224.4L555.2 1220"/>
<path d="M559.2 1210.8L556.5 1206.4"/>
<circle cx="557.1" cy="1191.5" r="2.3" stroke="none"/>
<circle cx="556.1" cy="1171" r="2.3" stroke="none"/>
<circle cx="556.7" cy="1147.1" r="2.3" stroke="none"/>
<path d="M555.5 1122.2L558.7 1117.8"/>
</g>
<circle cx="553.5" cy="1096" r="1.6"/>
<circle cx="555.5" cy="1102" r="1.6"/>
<circle cx="551.5" cy="1090" r="1.6"/>
<g fill="#0b0b0b" stroke="#0b0b0b" stroke-width="3.4" stroke-linecap="round">
<circle cx="521.2" cy="1291" r="2.3" stroke="none"/>
<circle cx="521.7" cy="1287.8" r="2.3" stroke="none"/>
<circle cx="521.6" cy="1279.1" r="2.3" stroke="none"/>
<circle cx="521.6" cy="1265.2" r="2.3" stroke="none"/>
<path d="M520 1248.7L522.4 1244.3"/>
<circle cx="521.8" cy="1223" r="2.3" stroke="none"/>
<circle cx="520.6" cy="1194.8" r="2.3" stroke="none"/>
<circle cx="522" cy="1162" r="2.3" stroke="none"/>
<circle cx="520.7" cy="1124.8" r="2.3" stroke="none"/>
</g>
<g fill="#0b0b0b" stroke="#0b0b0b" stroke-width="3.4" stroke-linecap="round">
<circle cx="674.9" cy="1410" r="2.3" stroke="none"/>
<circle cx="675.4" cy="1408.1" r="2.3" stroke="none"/>
<circle cx="675.1" cy="1402.9" r="2.3" stroke="none"/>
<path d="M676.4 1396.8L673.4 1392.4"/>
<circle cx="674.4" cy="1383.4" r="2.3" stroke="none"/>
<path d="M673.6 1371.6L676.8 1367.2"/>
<circle cx="674.7" cy="1352.6" r="2.3" stroke="none"/>
<circle cx="675.6" cy="1333.1" r="2.3" stroke="none"/>
<circle cx="673.8" cy="1310.9" r="2.3" stroke="none"/>
<circle cx="674.7" cy="1286" r="2.3" stroke="none"/>
</g>
<g fill="#0b0b0b" stroke="#0b0b0b" stroke-width="3.4" stroke-linecap="round">
<circle cx="673.5" cy="1550" r="2.3" stroke="none"/>
<circle cx="673.2" cy="1545.8" r="2.3" stroke="none"/>
<circle cx="673.1" cy="1539.8" r="2.3" stroke="none"/>
<circle cx="673.4" cy="1532.6" r="2.3" stroke="none"/>
<circle cx="672.9" cy="1524.8" r="2.3" stroke="none"/>
<circle cx="673.5" cy="1516.3" r="2.3" stroke="none"/>
<path d="M672.1 1509.5L675.2 1505.1"/>
<circle cx="673" cy="1497.8" r="2.3" stroke="none"/>
<path d="M676.3 1490.1L673.3 1485.7"/>
<circle cx="673.7" cy="1477.6" r="2.3" stroke="none"/>
</g>
<g fill="#0b0b0b" stroke="none">
<circle cx="289.2" cy="1766" r="1.7"/>
<circle cx="289.6" cy="1759.2" r="1.7"/>
<circle cx="290.3" cy="1752.4" r="1.7"/>
<circle cx="293.6" cy="1745.6" r="1.7"/>
<circle cx="292.5" cy="1738.8" r="1.7"/>
<circle cx="291.9" cy="1732" r="1.7"/>
<circle cx="295.1" cy="1725.2" r="1.7"/>
<circle cx="296" cy="1718.4" r="1.7"/>
<circle cx="294.3" cy="1711.6" r="1.7"/>
<circle cx="293.6" cy="1704.8" r="1.7"/>
<circle cx="294.3" cy="1698" r="1.7"/>
<circle cx="294.4" cy="1691.2" r="1.7"/>
<circle cx="295.9" cy="1684.4" r="1.7"/>
<circle cx="295.4" cy="1677.6" r="1.7"/>
<circle cx="296.5" cy="1670.8" r="1.7"/>
<circle cx="297" cy="1664" r="1.7"/>
<circle cx="298.8" cy="1657.2" r="1.7"/>
<circle cx="300.5" cy="1650.4" r="1.7"/>
<circle cx="300.5" cy="1643.6" r="1.7"/>
<circle cx="299.7" cy="1636.8" r="1.7"/>
<circle cx="300.2" cy="1630" r="1.7"/>
<circle cx="301.1" cy="1623.2" r="1.7"/>
<circle cx="301" cy="1616.4" r="1.7"/>
<circle cx="301.4" cy="1609.6" r="1.7"/>
<circle cx="300.7" cy="1602.8" r="1.7"/>
<circle cx="302.1" cy="1596" r="1.7"/>
</g>
<text transform="translate(598.7 1264.4) scale(1.05 1)" font-size="36.1" font-weight="normal" text-anchor="start" >1000 nM</text>
<text transform="translate(570 1331) scale(1.05 1)" font-size="36.1" font-weight="normal" text-anchor="start" >3000 nM</text>
<text transform="translate(724.5 1417) scale(1.05 1)" font-size="36.1" font-weight="normal" text-anchor="start" >500 nM</text>
<text transform="translate(723.5 1552.5) scale(1.05 1)" font-size="36.1" font-weight="normal" text-anchor="start" >200 nM</text>
<text transform="translate(725.5 1652.5) scale(1.05 1)" font-size="36.1" font-weight="normal" text-anchor="start" >100 nM</text>
<text transform="translate(700 1727.5) scale(1.05 1)" font-size="36.1" font-weight="normal" text-anchor="start" >50 nM</text>
<text transform="translate(841.5 1734) scale(1.05 1)" font-size="36.1" font-weight="normal" text-anchor="start" >10 nM</text>
<rect x="1273.7" y="1074.1" width="700.8" height="700.8" fill="none" stroke="#0b0b0b" stroke-width="6.5"/>
<path d="M1374.6 1074.1v13.6M1374.6 1774.9v-13.6M1474.6 1074.1v13.6M1474.6 1774.9v-13.6M1574.3 1074.1v13.6M1574.3 1774.9v-13.6M1674.6 1074.1v13.6M1674.6 1774.9v-13.6M1774.3 1074.1v13.6M1774.3 1774.9v-13.6M1874 1074.1v13.6M1874 1774.9v-13.6M1273.7 1172.8h13.6M1974.5 1172.8h-13.6M1273.7 1272.8h13.6M1974.5 1272.8h-13.6M1273.7 1372h13.6M1974.5 1372h-13.6M1273.7 1471.4h13.6M1974.5 1471.4h-13.6M1273.7 1570.3h13.6M1974.5 1570.3h-13.6M1273.7 1670.5h13.6M1974.5 1670.5h-13.6M1273.7 1769.3h13.6M1974.5 1769.3h-13.6" stroke="#0b0b0b" stroke-width="3.4" fill="none"/>
<text transform="translate(1085 1059.6) scale(1.03 1)" font-size="66.5" font-weight="bold" text-anchor="start" >D.</text>
<text transform="translate(1252 1078.5) scale(1.05 1)" font-size="36.3" font-weight="bold" text-anchor="end" >1400</text>
<text transform="translate(1252 1179) scale(1.05 1)" font-size="36.3" font-weight="bold" text-anchor="end" >1200</text>
<text transform="translate(1252 1279) scale(1.05 1)" font-size="36.3" font-weight="bold" text-anchor="end" >1000</text>
<text transform="translate(1252 1378.5) scale(1.05 1)" font-size="36.3" font-weight="bold" text-anchor="end" >800</text>
<text transform="translate(1252 1476.5) scale(1.05 1)" font-size="36.3" font-weight="bold" text-anchor="end" >600</text>
<text transform="translate(1252 1575) scale(1.05 1)" font-size="36.3" font-weight="bold" text-anchor="end" >400</text>
<text transform="translate(1252 1677) scale(1.05 1)" font-size="36.3" font-weight="bold" text-anchor="end" >200</text>
<text transform="translate(1252 1773) scale(1.05 1)" font-size="36.3" font-weight="bold" text-anchor="end" >0</text>
<text transform="translate(1274.9 1821.5) scale(1.05 1)" font-size="36.3" font-weight="bold" text-anchor="middle" >0</text>
<text transform="translate(1374.4 1821.5) scale(1.05 1)" font-size="36.3" font-weight="bold" text-anchor="middle" >500</text>
<text transform="translate(1473.5 1821.5) scale(1.05 1)" font-size="36.3" font-weight="bold" text-anchor="middle" >1000</text>
<text transform="translate(1574 1821.5) scale(1.05 1)" font-size="36.3" font-weight="bold" text-anchor="middle" >1500</text>
<text transform="translate(1674.4 1821.5) scale(1.05 1)" font-size="36.3" font-weight="bold" text-anchor="middle" >2000</text>
<text transform="translate(1773.5 1821.5) scale(1.05 1)" font-size="36.3" font-weight="bold" text-anchor="middle" >2500</text>
<text transform="translate(1873.9 1821.5) scale(1.05 1)" font-size="36.3" font-weight="bold" text-anchor="middle" >3000</text>
<text transform="translate(1973.9 1821.5) scale(1.05 1)" font-size="36.3" font-weight="bold" text-anchor="middle" >3500</text>
<text transform="translate(1623.4 1888.4) scale(1.05 1)" font-size="44.5" font-weight="bold" text-anchor="middle" >Concentration (nM)</text>
<text transform="translate(1133.5 1424) rotate(-90) scale(1 1.02)" font-size="38.7" font-weight="bold" text-anchor="middle">Response Units (RU)</text>
<g fill="none" stroke="#0b0b0b" stroke-linecap="round" stroke-linejoin="round">
<path id="fit1274" d="M1274.2 1769L1274.3 1767.4L1274.7 1763.5L1275.3 1757.6L1276 1750.1L1276.9 1741.1L1277.9 1730.8L1279.1 1719.4L1280.4 1707L1281.9 1693.9L1283.5 1680L1285.3 1665.7L1287.2 1650.9L1289.2 1635.9L1291.3 1620.7L1293.6 1605.4L1296 1590L1298.5 1574.8L1301.1 1559.6L1303.8 1544.6L1306.7 1529.9L1309.7 1515.4L1312.8 1501.2L1316 1487.3L1319.3 1473.7L1322.8 1460.5L1326.3 1447.7L1330 1435.2L1333.8 1423L1337.6 1411.3L1341.6 1399.9L1345.7 1388.9L1349.9 1378.2L1354.3 1367.9L1358.7 1357.9L1363.2 1348.3L1367.8 1339L1372.6 1330.1L1377.4 1321.4L1382.3 1313.1L1387.4 1305L1392.5 1297.3L1397.8 1289.8L1403.1 1282.5L1408.6 1275.6L1414.1 1268.8L1419.8 1262.3L1425.5 1256.1L1431.3 1250L1437.3 1244.2L1443.3 1238.5L1449.5 1233.1L1455.7 1227.9L1462 1222.8L1468.5 1217.9L1475 1213.1L1481.6 1208.6L1488.3 1204.1L1495.1 1199.9L1502 1195.7L1509 1191.7L1516.1 1187.9L1523.3 1184.1L1530.6 1180.5L1537.9 1177L1545.4 1173.6L1553 1170.3L1560.6 1167.1L1568.4 1164L1576.2 1161L1584.1 1158.1L1592.1 1155.3L1600.2 1152.6L1608.4 1149.9L1616.7 1147.3L1625.1 1144.8L1633.6 1142.4L1642.1 1140L1650.8 1137.8L1659.5 1135.5L1668.3 1133.4L1677.2 1131.3L1686.2 1129.2L1695.3 1127.2L1704.5 1125.3L1713.8 1123.4L1723.1 1121.6L1732.6 1119.8L1742.1 1118.1L1751.7 1116.4L1761.4 1114.7L1771.2 1113.1L1781.1 1111.6L1791 1110L1801.1 1108.6L1811.2 1107.1L1821.4 1105.7L1831.7 1104.3L1842.1 1103L1852.6 1101.7L1863.1 1100.4L1873.8 1099.2L1884.5 1097.9L1895.3 1096.7L1906.2 1095.6L1917.2 1094.4L1928.3 1093.3L1939.4 1092.3L1950.6 1091.2L1962 1090.2L1973.3 1089.2" stroke-width="7.2"/>
<use href="#fit1274" x="-2.5" stroke-width="7.2"/>
<use href="#fit1274" x="-1.2" stroke-width="7.2"/>
<use href="#fit1274" x="1.2" stroke-width="7.2"/>
<use href="#fit1274" x="2.5" stroke-width="7.2"/>
</g>
<g fill="#0b0b0b" stroke="none">
<circle cx="1474.6" cy="1102" r="8.1"/>
<circle cx="1874" cy="1178" r="8.1"/>
<circle cx="1374.2" cy="1315.5" r="8.1"/>
<circle cx="1317.2" cy="1507.4" r="8.1"/>
<circle cx="1296.8" cy="1639.7" r="8.1"/>
<circle cx="1285.8" cy="1733" r="8.1"/>
<circle cx="1278" cy="1760" r="8.1"/>
<circle cx="1275.5" cy="1769" r="8.1"/>
</g>
<text transform="translate(1419 1465.7) scale(0.985 1)" font-size="66.7" font-weight="normal" text-anchor="start" ><tspan font-style="italic">K</tspan><tspan font-size="42" dy="14">d</tspan><tspan dy="-14"> = 340 nM</tspan></text>
<rect x="272.5" y="1987.9" width="695" height="700.2" fill="none" stroke="#0b0b0b" stroke-width="6.5"/>
<path d="M319 1987.9v13.6M319 2688.1v-13.6M411.5 1987.9v13.6M411.5 2688.1v-13.6M504.5 1987.9v13.6M504.5 2688.1v-13.6M597.3 1987.9v13.6M597.3 2688.1v-13.6M689.2 1987.9v13.6M689.2 2688.1v-13.6M782.3 1987.9v13.6M782.3 2688.1v-13.6M874.8 1987.9v13.6M874.8 2688.1v-13.6M272.5 2050.5h13.6M967.5 2050.5h-13.6M272.5 2205.7h13.6M967.5 2205.7h-13.6M272.5 2362.5h13.6M967.5 2362.5h-13.6M272.5 2519.4h13.6M967.5 2519.4h-13.6M272.5 2676.2h13.6M967.5 2676.2h-13.6" stroke="#0b0b0b" stroke-width="3.4" fill="none"/>
<text transform="translate(29 1973.7) scale(1.03 1)" font-size="66.5" font-weight="bold" text-anchor="start" >E.</text>
<text transform="translate(255 2056) scale(1.05 1)" font-size="36.3" font-weight="bold" text-anchor="end" >2000</text>
<text transform="translate(255 2211.5) scale(1.05 1)" font-size="36.3" font-weight="bold" text-anchor="end" >1500</text>
<text transform="translate(255 2368.5) scale(1.05 1)" font-size="36.3" font-weight="bold" text-anchor="end" >1000</text>
<text transform="translate(255 2525) scale(1.05 1)" font-size="36.3" font-weight="bold" text-anchor="end" >500</text>
<text transform="translate(255 2682.5) scale(1.05 1)" font-size="36.3" font-weight="bold" text-anchor="end" >0</text>
<text transform="translate(318.8 2730) scale(1.05 1)" font-size="36.3" font-weight="bold" text-anchor="middle" >0</text>
<text transform="translate(411 2730) scale(1.05 1)" font-size="36.3" font-weight="bold" text-anchor="middle" >200</text>
<text transform="translate(504 2730) scale(1.05 1)" font-size="36.3" font-weight="bold" text-anchor="middle" >400</text>
<text transform="translate(596.7 2730) scale(1.05 1)" font-size="36.3" font-weight="bold" text-anchor="middle" >600</text>
<text transform="translate(689.2 2730) scale(1.05 1)" font-size="36.3" font-weight="bold" text-anchor="middle" >800</text>
<text transform="translate(783.7 2730) scale(1.05 1)" font-size="36.3" font-weight="bold" text-anchor="middle" >1000</text>
<text transform="translate(875.7 2730) scale(1.05 1)" font-size="36.3" font-weight="bold" text-anchor="middle" >1200</text>
<text transform="translate(968.3 2730) scale(1.05 1)" font-size="36.3" font-weight="bold" text-anchor="middle" >1400</text>
<text transform="translate(620.5 2803.5) scale(1.05 1)" font-size="44.3" font-weight="bold" text-anchor="middle" >Time (seconds)</text>
<text transform="translate(134.5 2337) rotate(-90) scale(1 1.02)" font-size="46.5" font-weight="bold" text-anchor="middle">Response Units (RU)</text>
<g fill="none" stroke="#0b0b0b" stroke-linecap="round" stroke-linejoin="round" filter="url(#rough)">
<path d="M277 2677C289.2 2677.1 337.2 2677.2 350 2677.5C362.8 2677.8 352 2678.9 354 2679C356 2679.1 354.3 2678.5 362 2678C369.7 2677.5 375 2676.5 400 2676C425 2675.5 462 2675.3 512 2675C562 2674.7 655.3 2674.2 700 2674C744.7 2673.8 765.9 2674.1 780 2673.5C794.1 2672.9 783.3 2670.5 784.8 2670.5C786.3 2670.5 778.3 2672.7 789 2673.5C799.7 2674.3 839 2675.2 849 2675.5" stroke-width="4.4" />
<path d="M333 2500C333.7 2494.2 335 2477.4 337 2465.4C339 2453.4 342.1 2440.9 345 2427.8C347.9 2414.7 350.7 2400.8 354.3 2387C357.9 2373.2 363.2 2357.7 366.9 2345C370.6 2332.3 372.4 2323 376.3 2310.8C380.2 2298.6 384.8 2285.1 390 2272C395.2 2258.9 402.1 2243.6 407.6 2232.4C413.1 2221.2 417.8 2213.4 423 2205C428.2 2196.6 433.7 2189.2 439 2182C444.3 2174.8 449.8 2168.2 455 2162C460.2 2155.8 465.2 2149.9 470.4 2144.6C475.6 2139.3 480.8 2134.4 486 2130C491.2 2125.6 497.4 2120.9 501.7 2118C506 2115.1 508.1 2114.2 512 2112.5C515.9 2110.8 520.8 2109.2 525 2108C529.2 2106.8 532 2105.9 537 2105.4C542 2104.9 548.7 2105 555 2105C561.3 2105 569.7 2105.7 574.7 2105.4C579.7 2105.1 581.9 2104.1 585 2103C588.1 2101.9 590.5 2100.8 593.5 2099C596.5 2097.2 599.9 2094.6 603 2092C606.1 2089.4 608.4 2086.9 612.3 2083.4C616.2 2079.9 624.1 2073.1 626.5 2071" stroke-width="4.4" />
<path d="M634.3 2121C634.4 2122.5 634.7 2127.7 635 2130C635.3 2132.3 635.2 2132.8 635.9 2135C636.6 2137.2 637.7 2140.9 639 2143C640.3 2145.1 641 2146.4 643.7 2147.7C646.4 2148.9 650.8 2149.7 655 2150.5C659.2 2151.3 663.8 2151.8 668.8 2152.4C673.8 2153 679.5 2153.5 685 2154C690.5 2154.5 698.9 2155.3 701.7 2155.6" stroke-width="4.4" />
<path d="M362.3 2618C362.5 2615.6 362.4 2611.1 363.7 2603.4C365 2595.7 367.4 2581.4 370 2572C372.6 2562.6 375.7 2554.8 379.4 2547C383.1 2539.2 387.3 2533.4 392 2525C396.7 2516.6 402.4 2505.8 407.6 2496.8C412.8 2487.8 417.8 2479.4 423 2471C428.2 2462.6 433.7 2454.4 439 2446.6C444.3 2438.8 449.8 2431.3 455 2424C460.2 2416.7 465.2 2409.5 470.4 2402.7C475.6 2395.9 480.8 2389.3 486 2383C491.2 2376.7 497.4 2370.3 501.7 2365C506 2359.7 507.7 2356.7 512 2351C516.3 2345.3 522.5 2336.7 527.7 2331C532.9 2325.3 538.2 2321.2 543.4 2317C548.6 2312.8 553.8 2309 559 2306C564.2 2303 569.5 2300.8 574.7 2298.9C579.9 2297 585.2 2295.6 590.4 2294.5C595.6 2293.4 598.2 2293.1 606 2292.6C613.8 2292.1 628 2292.2 637.4 2291.3C646.8 2290.4 654.1 2288.9 662.5 2287.3C670.9 2285.8 683.4 2282.9 687.6 2282" stroke-width="4.4" />
<path d="M693.2 2291C693.3 2292.5 693.6 2297.2 694 2300C694.4 2302.8 694.4 2305.4 695.4 2307.7C696.4 2310 698.2 2312.2 700 2314C701.8 2315.8 703.4 2317.2 706.4 2318.6C709.4 2320 713.8 2321.4 718 2322.5C722.2 2323.6 724 2323.8 731.5 2325C739 2326.2 757.7 2328.8 762.9 2329.6" stroke-width="4.4" />
<path d="M317 2676C317.2 2672.5 318 2661 318.5 2655C319 2649 319.2 2645.5 320 2640C320.8 2634.5 321.8 2627.3 323 2622C324.2 2616.7 325.4 2612.2 327 2608C328.6 2603.8 329.4 2602.5 332.4 2597C335.4 2591.5 340.3 2581.8 345 2575C349.7 2568.2 355.4 2562.1 360.6 2556.4C365.8 2550.7 371.1 2545.3 376.3 2540.7C381.5 2536.1 386.8 2532.7 392 2529C397.2 2525.3 399.8 2523 407.6 2518.7C415.4 2514.4 428.5 2507.7 439 2503C449.5 2498.3 458.2 2495.1 470.4 2490.5C482.6 2485.9 499.8 2479.7 512 2475.5C524.2 2471.3 532.9 2467.9 543.4 2465.4C553.9 2462.9 564.3 2461.8 574.7 2460.7C585.1 2459.6 594 2459.2 606 2459C618 2458.8 640 2459.7 646.8 2459.8" stroke-width="4.4" />
<path d="M652.5 2451C652.7 2452.5 653.1 2457.6 653.5 2460C653.9 2462.4 653.6 2463.6 654.7 2465.4C655.8 2467.2 657.6 2469.4 660 2471C662.4 2472.6 664.6 2473.4 668.8 2474.8C673 2476.2 679.8 2478.2 685 2479.5C690.2 2480.8 692.2 2481.9 700 2482.7C707.8 2483.4 719.7 2483.3 731.5 2484C743.3 2484.7 764.2 2486.3 770.7 2486.8" stroke-width="4.4" />
<path d="M317 2676C317.5 2673.7 319 2665.7 320 2662C321 2658.3 320.9 2658.7 323 2653.6C325.1 2648.5 328.7 2637.9 332.4 2631.6C336.1 2625.3 340.3 2620.7 345 2616C349.7 2611.3 355.4 2606.8 360.6 2603.4C365.8 2600 368.5 2598.5 376.3 2595.6C384.1 2592.7 397.2 2588.6 407.6 2586C418.1 2583.4 428.5 2581.7 439 2579.9C449.5 2578.1 458.2 2576.4 470.4 2575C482.6 2573.6 494.6 2572.9 512 2571.5C529.4 2570.1 553.8 2567.9 574.7 2566.4C595.6 2564.9 616.5 2563.1 637.4 2562.6C658.3 2562.1 689.6 2563.2 700 2563.3" stroke-width="4.4" />
<path d="M705.8 2553C706 2554.2 706.4 2558.2 706.8 2560C707.2 2561.8 706.6 2562.7 708 2564C709.4 2565.3 711.1 2566.8 715 2568C718.9 2569.2 724 2570.4 731.5 2571.4C739 2572.4 751.1 2573.4 760 2574C768.9 2574.6 780.7 2574.8 784.8 2575" stroke-width="4.4" />
<path d="M317 2676C318 2673.8 320.4 2667.5 323 2663C325.6 2658.5 328.7 2653.1 332.4 2648.9C336.1 2644.7 340.3 2641.3 345 2637.9C349.7 2634.5 355.4 2631.4 360.6 2628.5C365.8 2625.6 371.1 2622.7 376.3 2620.6C381.5 2618.5 386.8 2617.3 392 2616C397.2 2614.7 399.8 2613.9 407.6 2612.8C415.4 2611.8 428.5 2610.3 439 2609.7C449.5 2609.1 458.2 2609.2 470.4 2609C482.6 2608.8 495.4 2608.6 512 2608.5C528.6 2608.4 550.2 2608.4 570 2608.5C589.8 2608.6 620.8 2608.9 631 2609" stroke-width="4.4" />
<path d="M635.5 2590C635.6 2592.3 635.9 2601 636.3 2604C636.7 2607 636.7 2606.8 637.8 2608C638.9 2609.2 640.5 2610.1 643 2611C645.5 2611.9 647.7 2612.5 653 2613.4C658.3 2614.3 667.2 2615.7 675 2616.5C682.8 2617.3 688.8 2617.9 700 2618.5C711.2 2619.1 735.4 2619.8 742.5 2620" stroke-width="4.4" />
<path d="M317 2676C318 2674 320.4 2668.3 323 2664C325.6 2659.7 328.7 2654.2 332.4 2650C336.1 2645.8 340.3 2642.4 345 2639C349.7 2635.6 355.4 2632.3 360.6 2629.5C365.8 2626.7 371.1 2623.8 376.3 2622C381.5 2620.2 386.8 2619.1 392 2618.5C397.2 2617.9 399.8 2618.5 407.6 2618.5C415.4 2618.5 428.5 2618.2 439 2618.5C449.5 2618.8 458.2 2619.4 470.4 2620C482.6 2620.6 494.6 2621.3 512 2622C529.4 2622.7 553.8 2623.3 574.7 2624C595.6 2624.7 616.5 2625.2 637.4 2626C658.3 2626.8 676 2627.6 700 2628.5C724 2629.4 768.1 2631.1 781.7 2631.6" stroke-width="4.4" />
<path d="M786.4 2604C786.5 2607 786.7 2617.5 787.2 2622C787.7 2626.5 785.7 2629.2 789.5 2631C793.3 2632.8 800.1 2632.3 810 2633C819.9 2633.7 842.5 2635 849 2635.4" stroke-width="4.4" />
</g>
<g fill="#0b0b0b" stroke="none">
<circle cx="318.6" cy="2664" r="1.8"/>
<circle cx="319.9" cy="2653.6" r="1.8"/>
<circle cx="321.5" cy="2637" r="1.8"/>
<circle cx="323" cy="2620" r="1.8"/>
<circle cx="324.5" cy="2605" r="1.8"/>
<circle cx="326" cy="2590" r="1.8"/>
<circle cx="327.5" cy="2574" r="1.8"/>
<circle cx="329" cy="2559.5" r="1.8"/>
<circle cx="330" cy="2547" r="1.8"/>
<circle cx="331" cy="2535" r="1.8"/>
<circle cx="331.8" cy="2524" r="1.8"/>
<circle cx="332.4" cy="2512.5" r="1.8"/>
<circle cx="360.4" cy="2660" r="2"/>
<circle cx="360.9" cy="2645" r="2"/>
<circle cx="361.5" cy="2632" r="2"/>
<circle cx="362" cy="2624" r="2"/>
<circle cx="632.7" cy="2002" r="2.2"/>
<circle cx="632.7" cy="2046" r="2.2"/>
<circle cx="626.5" cy="2060" r="2.2"/>
<circle cx="632.7" cy="2077" r="2.2"/>
<circle cx="633" cy="2096" r="2.2"/>
<circle cx="633.3" cy="2108.5" r="2.2"/>
<circle cx="633.6" cy="2116" r="2.2"/>
</g>
<g fill="#0b0b0b" stroke="#0b0b0b" stroke-width="3.4" stroke-linecap="round">
<circle cx="691.7" cy="2288.8" r="2.3" stroke="none"/>
<circle cx="691.1" cy="2286.8" r="2.3" stroke="none"/>
<circle cx="691.4" cy="2281.3" r="2.3" stroke="none"/>
<path d="M689.7 2274.8L693.8 2270.4"/>
<circle cx="691.3" cy="2260.8" r="2.3" stroke="none"/>
<circle cx="691.3" cy="2246" r="2.3" stroke="none"/>
<circle cx="691.9" cy="2228.3" r="2.3" stroke="none"/>
<circle cx="690.7" cy="2207.7" r="2.3" stroke="none"/>
<circle cx="692" cy="2184.2" r="2.3" stroke="none"/>
<circle cx="692.7" cy="2158" r="2.3" stroke="none"/>
<circle cx="690.1" cy="2129" r="2.3" stroke="none"/>
</g>
<g fill="#0b0b0b" stroke="#0b0b0b" stroke-width="3.4" stroke-linecap="round">
<circle cx="649.8" cy="2449" r="2.3" stroke="none"/>
<circle cx="649.5" cy="2442.2" r="2.3" stroke="none"/>
<circle cx="649.5" cy="2431.1" r="2.3" stroke="none"/>
<path d="M651.5 2419.6L648.1 2415.2"/>
<circle cx="649.7" cy="2401.7" r="2.3" stroke="none"/>
<circle cx="649.8" cy="2384.3" r="2.3" stroke="none"/>
<circle cx="650" cy="2365.5" r="2.3" stroke="none"/>
<path d="M651 2347.6L648.2 2343.2"/>
<circle cx="650.4" cy="2324.1" r="2.3" stroke="none"/>
<path d="M647.3 2304L650.7 2299.6"/>
<circle cx="649.3" cy="2278.4" r="2.3" stroke="none"/>
<circle cx="648.3" cy="2254" r="2.3" stroke="none"/>
</g>
<g fill="#0b0b0b" stroke="#0b0b0b" stroke-width="3.4" stroke-linecap="round">
<circle cx="704.3" cy="2552" r="2.3" stroke="none"/>
<circle cx="703.8" cy="2550.2" r="2.3" stroke="none"/>
<circle cx="703.8" cy="2545.1" r="2.3" stroke="none"/>
<circle cx="703.5" cy="2537.1" r="2.3" stroke="none"/>
<path d="M702.8 2528.5L706.5 2524.1"/>
<circle cx="704.7" cy="2512.7" r="2.3" stroke="none"/>
<path d="M701.5 2498.6L705.3 2494.2"/>
<path d="M701.4 2479.7L705.6 2475.3"/>
<path d="M706.3 2458.2L702.6 2453.8"/>
</g>
<g fill="#0b0b0b" stroke="#0b0b0b" stroke-width="3.4" stroke-linecap="round">
<circle cx="635.3" cy="2590" r="2.3" stroke="none"/>
<circle cx="634.6" cy="2581.2" r="2.3" stroke="none"/>
<circle cx="634.1" cy="2572.4" r="2.3" stroke="none"/>
<circle cx="634.8" cy="2563.6" r="2.3" stroke="none"/>
<circle cx="634.1" cy="2554.8" r="2.3" stroke="none"/>
</g>
<text transform="translate(678 2119) scale(1.05 1)" font-size="36.1" font-weight="normal" text-anchor="start" >3000 nM</text>
<text transform="translate(714.5 2291) scale(1.05 1)" font-size="36.1" font-weight="normal" text-anchor="start" >750 nM</text>
<text transform="translate(678 2450.5) scale(1.05 1)" font-size="36.1" font-weight="normal" text-anchor="start" >500 nM</text>
<text transform="translate(714.5 2556.5) scale(1.05 1)" font-size="36.1" font-weight="normal" text-anchor="start" >250 nM</text>
<text transform="translate(655 2600.5) scale(1.05 1)" font-size="36.1" font-weight="normal" text-anchor="start" >100 nM</text>
<text transform="translate(820.5 2611.5) scale(1.05 1)" font-size="36.1" font-weight="normal" text-anchor="start" >50 nM</text>
<text transform="translate(828.5 2670) scale(1.05 1)" font-size="36.1" font-weight="normal" text-anchor="start" >5 nM</text>
<rect x="1280.2" y="1987.9" width="694.3" height="700" fill="none" stroke="#0b0b0b" stroke-width="6.5"/>
<path d="M1283.9 1987.9v13.6M1283.9 2687.9v-13.6M1382.4 1987.9v13.6M1382.4 2687.9v-13.6M1480.2 1987.9v13.6M1480.2 2687.9v-13.6M1580 1987.9v13.6M1580 2687.9v-13.6M1678.7 1987.9v13.6M1678.7 2687.9v-13.6M1776.8 1987.9v13.6M1776.8 2687.9v-13.6M1875.3 1987.9v13.6M1875.3 2687.9v-13.6M1280.2 2160.9h13.6M1974.5 2160.9h-13.6M1280.2 2335.9h13.6M1974.5 2335.9h-13.6M1280.2 2510.9h13.6M1974.5 2510.9h-13.6M1280.2 2685.3h13.6M1974.5 2685.3h-13.6" stroke="#0b0b0b" stroke-width="3.4" fill="none"/>
<text transform="translate(1084.5 1973.7) scale(1.03 1)" font-size="66.5" font-weight="bold" text-anchor="start" >F.</text>
<text transform="translate(1261.5 1992.5) scale(1.05 1)" font-size="36.3" font-weight="bold" text-anchor="end" >2000</text>
<text transform="translate(1261.5 2167) scale(1.05 1)" font-size="36.3" font-weight="bold" text-anchor="end" >1500</text>
<text transform="translate(1261.5 2342) scale(1.05 1)" font-size="36.3" font-weight="bold" text-anchor="end" >1000</text>
<text transform="translate(1261.5 2516) scale(1.05 1)" font-size="36.3" font-weight="bold" text-anchor="end" >500</text>
<text transform="translate(1261.5 2690) scale(1.05 1)" font-size="36.3" font-weight="bold" text-anchor="end" >0</text>
<text transform="translate(1283.5 2737) scale(1.05 1)" font-size="36.3" font-weight="bold" text-anchor="middle" >0</text>
<text transform="translate(1382 2737) scale(1.05 1)" font-size="36.3" font-weight="bold" text-anchor="middle" >500</text>
<text transform="translate(1480.7 2737) scale(1.05 1)" font-size="36.3" font-weight="bold" text-anchor="middle" >1000</text>
<text transform="translate(1579.5 2737) scale(1.05 1)" font-size="36.3" font-weight="bold" text-anchor="middle" >1500</text>
<text transform="translate(1678.7 2737) scale(1.05 1)" font-size="36.3" font-weight="bold" text-anchor="middle" >2000</text>
<text transform="translate(1777.5 2737) scale(1.05 1)" font-size="36.3" font-weight="bold" text-anchor="middle" >2500</text>
<text transform="translate(1876 2737) scale(1.05 1)" font-size="36.3" font-weight="bold" text-anchor="middle" >3000</text>
<text transform="translate(1974 2737) scale(1.05 1)" font-size="36.3" font-weight="bold" text-anchor="middle" >3500</text>
<text transform="translate(1626.5 2802.5) scale(1.05 1)" font-size="44.5" font-weight="bold" text-anchor="middle" >Concentration (nM)</text>
<text transform="translate(1141 2336) rotate(-90) scale(1 1.02)" font-size="46.3" font-weight="bold" text-anchor="middle">Response Units (RU)</text>
<g fill="none" stroke="#0b0b0b" stroke-linecap="round" stroke-linejoin="round">
<path id="fit1282" d="M1282.8 2685.9L1282.9 2685.3L1283.3 2683.8L1283.9 2681.6L1284.6 2678.6L1285.4 2675.1L1286.5 2671L1287.6 2666.3L1289 2661.1L1290.4 2655.4L1292 2649.3L1293.7 2642.8L1295.6 2635.9L1297.6 2628.7L1299.7 2621.1L1301.9 2613.2L1304.3 2605.1L1306.7 2596.7L1309.3 2588.1L1312 2579.3L1314.9 2570.3L1317.8 2561.1L1320.9 2551.9L1324 2542.5L1327.3 2533L1330.7 2523.5L1334.2 2513.8L1337.8 2504.2L1341.6 2494.5L1345.4 2484.8L1349.3 2475.2L1353.4 2465.5L1357.5 2455.9L1361.8 2446.3L1366.1 2436.7L1370.6 2427.2L1375.2 2417.8L1379.8 2408.4L1384.6 2399.1L1389.5 2389.9L1394.5 2380.8L1399.5 2371.8L1404.7 2362.9L1410 2354.1L1415.4 2345.4L1420.8 2336.8L1426.4 2328.3L1432.1 2319.9L1437.8 2311.7L1443.7 2303.6L1449.7 2295.6L1455.7 2287.7L1461.9 2279.9L1468.1 2272.3L1474.5 2264.8L1480.9 2257.4L1487.4 2250.1L1494 2242.9L1500.8 2235.9L1507.6 2229L1514.5 2222.2L1521.5 2215.6L1528.6 2209L1535.7 2202.6L1543 2196.3L1550.4 2190.1L1557.8 2184L1565.4 2178L1573 2172.1L1580.8 2166.4L1588.6 2160.7L1596.5 2155.1L1604.5 2149.7L1612.6 2144.3L1620.7 2139.1L1629 2133.9L1637.4 2128.9L1645.8 2123.9L1654.3 2119.1L1662.9 2114.3L1671.6 2109.6L1680.4 2105L1689.3 2100.5L1698.3 2096.1L1707.3 2091.7L1716.5 2087.4L1725.7 2083.3L1735 2079.1L1744.4 2075.1L1753.9 2071.2L1763.5 2067.3L1773.1 2063.5L1782.9 2059.7L1792.7 2056.1L1802.6 2052.4L1812.6 2048.9L1822.7 2045.4L1832.9 2042L1843.1 2038.7L1853.4 2035.4L1863.9 2032.2L1874.4 2029L1884.9 2025.9L1895.6 2022.8L1906.4 2019.8L1917.2 2016.9L1928.1 2014L1939.1 2011.1L1950.2 2008.3L1961.4 2005.6L1972.6 2002.9" stroke-width="7.2"/>
<use href="#fit1282" x="-2.5" stroke-width="7.2"/>
<use href="#fit1282" x="-1.2" stroke-width="7.2"/>
<use href="#fit1282" x="1.2" stroke-width="7.2"/>
<use href="#fit1282" x="2.5" stroke-width="7.2"/>
</g>
<g fill="#0b0b0b" stroke="none">
<circle cx="1431.6" cy="2258" r="8.2"/>
<circle cx="1875.3" cy="2039.5" r="8.2"/>
<circle cx="1382.4" cy="2445" r="8.2"/>
<circle cx="1332.9" cy="2560" r="8.2"/>
<circle cx="1303" cy="2611" r="8.2"/>
<circle cx="1293" cy="2622" r="8.2"/>
<circle cx="1282.6" cy="2686" r="8.2"/>
</g>
<text transform="translate(1444 2422.5) scale(0.985 1)" font-size="66.7" font-weight="normal" text-anchor="start" ><tspan font-style="italic">K</tspan><tspan font-size="42" dy="14">d</tspan><tspan dy="-14"> = 1100 nM</tspan></text>
</g>
<defs><filter id="soft" x="0" y="0" width="100%" height="100%" filterUnits="userSpaceOnUse"><feGaussianBlur stdDeviation="0.9"/></filter><filter id="rough" x="-2%" y="-2%" width="104%" height="104%"><feTurbulence type="fractalNoise" baseFrequency="0.22" numOctaves="2" seed="3" result="n"/><feDisplacementMap in="SourceGraphic" in2="n" scale="2.2" xChannelSelector="R" yChannelSelector="G"/></filter></defs>
</svg></body></html>
